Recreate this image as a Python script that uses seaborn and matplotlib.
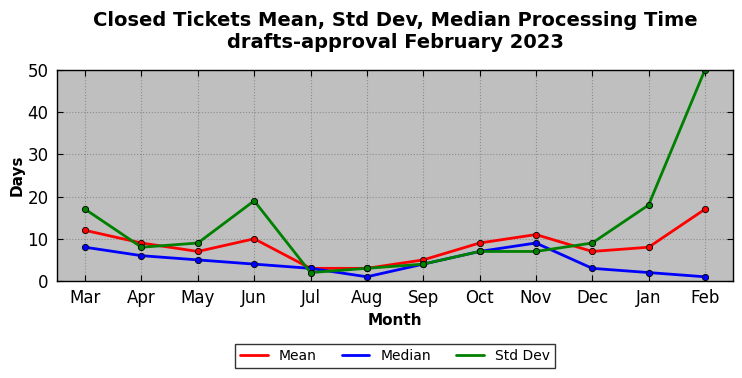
import pandas as pd
import matplotlib
matplotlib.use("Agg")
import matplotlib.pyplot as plt
import seaborn as sns

months = ["Mar", "Apr", "May", "Jun", "Jul", "Aug", "Sep", "Oct", "Nov", "Dec", "Jan", "Feb"]
mean_days = [12, 9, 7, 10, 3, 3, 5, 9, 11, 7, 8, 17]
median_days = [8, 6, 5, 4, 3, 1, 4, 7, 9, 3, 2, 1]
std_days = [17, 8, 9, 19, 2, 3, 4, 7, 7, 9, 18, 50]

series_colors = {"Mean": "red", "Median": "blue", "Std Dev": "green"}

# long table for seaborn
df = pd.DataFrame({"Month": months, "Mean": mean_days, "Median": median_days, "Std Dev": std_days})
df["pos"] = range(len(months))
long_df = df.melt(id_vars=["Month", "pos"], var_name="Stat", value_name="Days")

sns.set_style("ticks")
plt.rcParams["font.family"] = ["DejaVu Sans"]
plt.rcParams["text.color"] = "black"
plt.rcParams["axes.labelcolor"] = "black"
plt.rcParams["xtick.color"] = "black"
plt.rcParams["ytick.color"] = "black"

fig = plt.figure(figsize=(7.42, 3.78), dpi=100)
ax = fig.add_axes([0.0768, 0.2566, 0.9112, 0.5584])
ax.set_facecolor("#bfbfbf")

sns.lineplot(data=long_df, x="pos", y="Days", hue="Stat", palette=series_colors,
             marker="o", markersize=4.5, markeredgecolor="black", markeredgewidth=0.6,
             linewidth=2, ax=ax, legend=True)

ax.set_xticks(range(len(months)))
ax.set_xticklabels(months)
ax.set_xlim(-0.5, 11.5)
ax.set_ylim(0, 50)
ax.set_yticks([0, 10, 20, 30, 40, 50])
ax.tick_params(axis="both", direction="in", top=True, right=True, labelsize=12, length=4, pad=6)
ax.grid(True, linestyle=":", color="#8c8c8c", linewidth=0.8)
for spine in ax.spines.values():
    spine.set_visible(True)
    spine.set_color("black")
    spine.set_linewidth(1)

ax.set_xlabel("Month", fontsize=11, fontweight="bold")
ax.set_ylabel("Days", fontsize=11, fontweight="bold", labelpad=2)
ax.set_title("Closed Tickets Mean, Std Dev, Median Processing Time\ndrafts-approval February 2023",
             fontsize=14, fontweight="bold", pad=16)

handles, labels = ax.get_legend_handles_labels()
ax.legend_.remove()
leg = ax.legend(handles, labels, loc="center", bbox_to_anchor=(0.5, -0.355), ncol=3,
                fontsize=10, frameon=True, fancybox=False, edgecolor="black",
                handlelength=2.0, columnspacing=1.8, borderpad=0.35)
for h in leg.legend_handles:
    h.set_marker("")
leg.get_frame().set_linewidth(1)

fig.savefig("out.png", dpi=100)
